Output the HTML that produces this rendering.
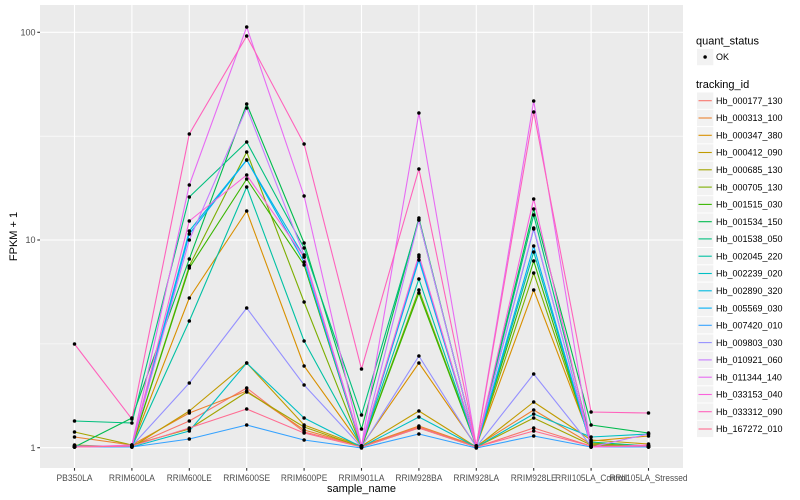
<!DOCTYPE html>
<html><head><meta charset="utf-8"><style>
html,body{margin:0;padding:0;background:#fff;}
svg{display:block;font-family:"Liberation Sans",Arial,sans-serif;}
.ln{fill:none;stroke-width:1.1;stroke-linejoin:round;}
.pt{fill:none;stroke:none;marker-start:url(#d);marker-mid:url(#d);marker-end:url(#d);}
.tx{font-size:9px;fill:#4D4D4D;}
.lg{font-size:9px;fill:#000;}
.tt{font-size:11px;fill:#000;}
</style></head><body>
<svg width="800" height="500" viewBox="0 0 800 500" xmlns="http://www.w3.org/2000/svg">
<defs><marker id="d" markerWidth="4" markerHeight="4" refX="2" refY="2" markerUnits="userSpaceOnUse"><circle cx="2" cy="2" r="1.75" fill="#000"/></marker></defs>
<rect x="0" y="0" width="800" height="500" fill="#fff"/>
<rect x="40" y="5" width="643" height="463" fill="#EBEBEB"/>
<!-- minor grid -->
<line x1="40" x2="683" y1="136.2" y2="136.2" stroke="#fff" stroke-width="0.55"/>
<line x1="40" x2="683" y1="343.9" y2="343.9" stroke="#fff" stroke-width="0.55"/>
<!-- major grid -->
<g stroke="#fff" stroke-width="1.1">
<line x1="40" x2="683" y1="32.3" y2="32.3"/>
<line x1="40" x2="683" y1="240" y2="240"/>
<line x1="40" x2="683" y1="447.7" y2="447.7"/>
<line x1="74.5" x2="74.5" y1="5" y2="468"/>
<line x1="131.9" x2="131.9" y1="5" y2="468"/>
<line x1="189.3" x2="189.3" y1="5" y2="468"/>
<line x1="246.7" x2="246.7" y1="5" y2="468"/>
<line x1="304.1" x2="304.1" y1="5" y2="468"/>
<line x1="361.5" x2="361.5" y1="5" y2="468"/>
<line x1="418.9" x2="418.9" y1="5" y2="468"/>
<line x1="476.3" x2="476.3" y1="5" y2="468"/>
<line x1="533.7" x2="533.7" y1="5" y2="468"/>
<line x1="591.1" x2="591.1" y1="5" y2="468"/>
<line x1="648.5" x2="648.5" y1="5" y2="468"/>
</g>
<!-- series lines -->
<g class="lines">
<polyline class="ln" stroke="#F8766D" points="74.5,447 131.9,446 189.3,421 246.7,388 304.1,432 361.5,446 418.9,427 476.3,447 533.7,428 591.1,446 648.5,447"/>
<polyline class="ln" stroke="#EA8331" points="74.5,437 131.9,445 189.3,413 246.7,391 304.1,430 361.5,446 418.9,426 476.3,446 533.7,410 591.1,444 648.5,446"/>
<polyline class="ln" stroke="#D89000" points="74.5,446 131.9,446 189.3,298 246.7,211 304.1,366 361.5,446 418.9,363 476.3,446 533.7,290 591.1,441 648.5,436"/>
<polyline class="ln" stroke="#C09B00" points="74.5,445 131.9,447 189.3,411 246.7,363 304.1,425 361.5,446 418.9,411 476.3,447 533.7,402 591.1,440 648.5,444"/>
<polyline class="ln" stroke="#A3A500" points="74.5,432 131.9,445 189.3,429 246.7,392 304.1,427 361.5,447 418.9,428 476.3,447 533.7,418 591.1,445 648.5,446"/>
<polyline class="ln" stroke="#7CAE00" points="74.5,446 131.9,446 189.3,266 246.7,152 304.1,302 361.5,447 418.9,290 476.3,446 533.7,273 591.1,443 648.5,447"/>
<polyline class="ln" stroke="#39B600" points="74.5,447 131.9,446 189.3,268 246.7,179 304.1,265 361.5,447 418.9,293 476.3,446 533.7,261 591.1,445 648.5,447"/>
<polyline class="ln" stroke="#00BB4E" points="74.5,447 131.9,418 189.3,259 246.7,104 304.1,243 361.5,429 418.9,218 476.3,447 533.7,209 591.1,425 648.5,433"/>
<polyline class="ln" stroke="#00BF7D" points="74.5,421 131.9,423 189.3,197 246.7,142 304.1,248 361.5,415 418.9,220 476.3,446 533.7,215 591.1,442 648.5,446"/>
<polyline class="ln" stroke="#00C1A3" points="74.5,447 131.9,447 189.3,321 246.7,187 304.1,341 361.5,446 418.9,279 476.3,447 533.7,252 591.1,446 648.5,447"/>
<polyline class="ln" stroke="#00BFC4" points="74.5,446 131.9,447 189.3,431 246.7,363 304.1,418 361.5,447 418.9,417 476.3,447 533.7,414 591.1,437 648.5,434"/>
<polyline class="ln" stroke="#00BAE0" points="74.5,447 131.9,446 189.3,231 246.7,160 304.1,257 361.5,446 418.9,257 476.3,446 533.7,229 591.1,446 648.5,447"/>
<polyline class="ln" stroke="#00B0F6" points="74.5,447 131.9,447 189.3,234 246.7,160 304.1,262 361.5,447 418.9,260 476.3,447 533.7,246 591.1,447 648.5,447"/>
<polyline class="ln" stroke="#35A2FF" points="74.5,447 131.9,447 189.3,439 246.7,425 304.1,440 361.5,448 418.9,434 476.3,448 533.7,436 591.1,447 648.5,447"/>
<polyline class="ln" stroke="#9590FF" points="74.5,446 131.9,446 189.3,383 246.7,308 304.1,385 361.5,447 418.9,356 476.3,447 533.7,374 591.1,446 648.5,446"/>
<polyline class="ln" stroke="#C77CFF" points="74.5,447 131.9,446 189.3,240 246.7,108 304.1,255 361.5,446 418.9,220 476.3,446 533.7,228 591.1,447 648.5,434"/>
<polyline class="ln" stroke="#E76BF3" points="74.5,447 131.9,445 189.3,185 246.7,27 304.1,196 361.5,446 418.9,113 476.3,446 533.7,101 591.1,447 648.5,446"/>
<polyline class="ln" stroke="#FA62DB" points="74.5,447 131.9,446 189.3,221 246.7,175 304.1,257 361.5,446 418.9,255 476.3,447 533.7,199 591.1,447 648.5,445"/>
<polyline class="ln" stroke="#FF62BC" points="74.5,344 131.9,419 189.3,134 246.7,36 304.1,144 361.5,369 418.9,169 476.3,446 533.7,112 591.1,412 648.5,413"/>
<polyline class="ln" stroke="#FF6C91" points="74.5,447 131.9,446 189.3,428 246.7,409 304.1,433 361.5,447 418.9,428 476.3,447 533.7,431 591.1,446 648.5,446"/>
</g>
<!-- points -->
<g>
<polyline class="pt" points="74.5,447 131.9,446 189.3,421 246.7,388 304.1,432 361.5,446 418.9,427 476.3,447 533.7,428 591.1,446 648.5,447"/>
<polyline class="pt" points="74.5,437 131.9,445 189.3,413 246.7,391 304.1,430 361.5,446 418.9,426 476.3,446 533.7,410 591.1,444 648.5,446"/>
<polyline class="pt" points="74.5,446 131.9,446 189.3,298 246.7,211 304.1,366 361.5,446 418.9,363 476.3,446 533.7,290 591.1,441 648.5,436"/>
<polyline class="pt" points="74.5,445 131.9,447 189.3,411 246.7,363 304.1,425 361.5,446 418.9,411 476.3,447 533.7,402 591.1,440 648.5,444"/>
<polyline class="pt" points="74.5,432 131.9,445 189.3,429 246.7,392 304.1,427 361.5,447 418.9,428 476.3,447 533.7,418 591.1,445 648.5,446"/>
<polyline class="pt" points="74.5,446 131.9,446 189.3,266 246.7,152 304.1,302 361.5,447 418.9,290 476.3,446 533.7,273 591.1,443 648.5,447"/>
<polyline class="pt" points="74.5,447 131.9,446 189.3,268 246.7,179 304.1,265 361.5,447 418.9,293 476.3,446 533.7,261 591.1,445 648.5,447"/>
<polyline class="pt" points="74.5,447 131.9,418 189.3,259 246.7,104 304.1,243 361.5,429 418.9,218 476.3,447 533.7,209 591.1,425 648.5,433"/>
<polyline class="pt" points="74.5,421 131.9,423 189.3,197 246.7,142 304.1,248 361.5,415 418.9,220 476.3,446 533.7,215 591.1,442 648.5,446"/>
<polyline class="pt" points="74.5,447 131.9,447 189.3,321 246.7,187 304.1,341 361.5,446 418.9,279 476.3,447 533.7,252 591.1,446 648.5,447"/>
<polyline class="pt" points="74.5,446 131.9,447 189.3,431 246.7,363 304.1,418 361.5,447 418.9,417 476.3,447 533.7,414 591.1,437 648.5,434"/>
<polyline class="pt" points="74.5,447 131.9,446 189.3,231 246.7,160 304.1,257 361.5,446 418.9,257 476.3,446 533.7,229 591.1,446 648.5,447"/>
<polyline class="pt" points="74.5,447 131.9,447 189.3,234 246.7,160 304.1,262 361.5,447 418.9,260 476.3,447 533.7,246 591.1,447 648.5,447"/>
<polyline class="pt" points="74.5,447 131.9,447 189.3,439 246.7,425 304.1,440 361.5,448 418.9,434 476.3,448 533.7,436 591.1,447 648.5,447"/>
<polyline class="pt" points="74.5,446 131.9,446 189.3,383 246.7,308 304.1,385 361.5,447 418.9,356 476.3,447 533.7,374 591.1,446 648.5,446"/>
<polyline class="pt" points="74.5,447 131.9,446 189.3,240 246.7,108 304.1,255 361.5,446 418.9,220 476.3,446 533.7,228 591.1,447 648.5,434"/>
<polyline class="pt" points="74.5,447 131.9,445 189.3,185 246.7,27 304.1,196 361.5,446 418.9,113 476.3,446 533.7,101 591.1,447 648.5,446"/>
<polyline class="pt" points="74.5,447 131.9,446 189.3,221 246.7,175 304.1,257 361.5,446 418.9,255 476.3,447 533.7,199 591.1,447 648.5,445"/>
<polyline class="pt" points="74.5,344 131.9,419 189.3,134 246.7,36 304.1,144 361.5,369 418.9,169 476.3,446 533.7,112 591.1,412 648.5,413"/>
<polyline class="pt" points="74.5,447 131.9,446 189.3,428 246.7,409 304.1,433 361.5,447 418.9,428 476.3,447 533.7,431 591.1,446 648.5,446"/>
</g>
<!-- axis ticks -->
<g stroke="#333" stroke-width="1.1">
<line x1="37.3" x2="40" y1="32.3" y2="32.3"/>
<line x1="37.3" x2="40" y1="240" y2="240"/>
<line x1="37.3" x2="40" y1="447.7" y2="447.7"/>
<line x1="74.5" x2="74.5" y1="468" y2="470.7"/>
<line x1="131.9" x2="131.9" y1="468" y2="470.7"/>
<line x1="189.3" x2="189.3" y1="468" y2="470.7"/>
<line x1="246.7" x2="246.7" y1="468" y2="470.7"/>
<line x1="304.1" x2="304.1" y1="468" y2="470.7"/>
<line x1="361.5" x2="361.5" y1="468" y2="470.7"/>
<line x1="418.9" x2="418.9" y1="468" y2="470.7"/>
<line x1="476.3" x2="476.3" y1="468" y2="470.7"/>
<line x1="533.7" x2="533.7" y1="468" y2="470.7"/>
<line x1="591.1" x2="591.1" y1="468" y2="470.7"/>
<line x1="648.5" x2="648.5" y1="468" y2="470.7"/>
</g>
<!-- y tick labels -->
<g class="tx" text-anchor="end">
<text x="35.5" y="35.5">100</text>
<text x="35.5" y="243.2">10</text>
<text x="35.5" y="450.9">1</text>
</g>
<!-- x tick labels -->
<g class="tx" text-anchor="middle">
<text x="74.5" y="481" textLength="36" lengthAdjust="spacingAndGlyphs">PB350LA</text>
<text x="131.9" y="481" textLength="46" lengthAdjust="spacingAndGlyphs">RRIM600LA</text>
<text x="189.3" y="481" textLength="45" lengthAdjust="spacingAndGlyphs">RRIM600LE</text>
<text x="246.7" y="481" textLength="47" lengthAdjust="spacingAndGlyphs">RRIM600SE</text>
<text x="304.1" y="481" textLength="46.5" lengthAdjust="spacingAndGlyphs">RRIM600PE</text>
<text x="361.5" y="481" textLength="46" lengthAdjust="spacingAndGlyphs">RRIM901LA</text>
<text x="418.9" y="481" textLength="47" lengthAdjust="spacingAndGlyphs">RRIM928BA</text>
<text x="476.3" y="481" textLength="45.5" lengthAdjust="spacingAndGlyphs">RRIM928LA</text>
<text x="533.7" y="481" textLength="46" lengthAdjust="spacingAndGlyphs">RRIM928LE</text>
<text x="591.1" y="481" textLength="72" lengthAdjust="spacingAndGlyphs">RRII105LA_Control</text>
<text x="648.5" y="481" textLength="78" lengthAdjust="spacingAndGlyphs">RRII105LA_Stressed</text>
</g>
<!-- axis titles -->
<text class="tt" x="361.5" y="492" text-anchor="middle">sample_name</text>
<text class="tt" transform="translate(17,236.5) rotate(-90)" text-anchor="middle">FPKM + 1</text>
<!-- legend: quant_status -->
<text class="tt" x="696" y="44.5">quant_status</text>
<rect x="697" y="48.9" width="16.3" height="16.3" fill="#F2F2F2"/>
<circle cx="705.1" cy="57" r="1.75" fill="#000"/>
<text class="lg" x="716" y="60.2">OK</text>
<!-- legend: tracking_id -->
<text class="tt" x="696" y="88.2">tracking_id</text>
<g>
<rect x="697" y="92.5" width="16.3" height="16.3" fill="#F2F2F2"/><line x1="698.5" x2="711.8" y1="100.7" y2="100.7" stroke="#F8766D" stroke-width="1.1"/><text class="lg" x="716" y="103.9">Hb_000177_130</text>
<rect x="697" y="109.8" width="16.3" height="16.3" fill="#F2F2F2"/><line x1="698.5" x2="711.8" y1="118" y2="118" stroke="#EA8331" stroke-width="1.1"/><text class="lg" x="716" y="121.2">Hb_000313_100</text>
<rect x="697" y="127.1" width="16.3" height="16.3" fill="#F2F2F2"/><line x1="698.5" x2="711.8" y1="135.3" y2="135.3" stroke="#D89000" stroke-width="1.1"/><text class="lg" x="716" y="138.5">Hb_000347_380</text>
<rect x="697" y="144.3" width="16.3" height="16.3" fill="#F2F2F2"/><line x1="698.5" x2="711.8" y1="152.5" y2="152.5" stroke="#C09B00" stroke-width="1.1"/><text class="lg" x="716" y="155.7">Hb_000412_090</text>
<rect x="697" y="161.6" width="16.3" height="16.3" fill="#F2F2F2"/><line x1="698.5" x2="711.8" y1="169.8" y2="169.8" stroke="#A3A500" stroke-width="1.1"/><text class="lg" x="716" y="173">Hb_000685_130</text>
<rect x="697" y="178.9" width="16.3" height="16.3" fill="#F2F2F2"/><line x1="698.5" x2="711.8" y1="187.1" y2="187.1" stroke="#7CAE00" stroke-width="1.1"/><text class="lg" x="716" y="190.3">Hb_000705_130</text>
<rect x="697" y="196.2" width="16.3" height="16.3" fill="#F2F2F2"/><line x1="698.5" x2="711.8" y1="204.4" y2="204.4" stroke="#39B600" stroke-width="1.1"/><text class="lg" x="716" y="207.6">Hb_001515_030</text>
<rect x="697" y="213.5" width="16.3" height="16.3" fill="#F2F2F2"/><line x1="698.5" x2="711.8" y1="221.7" y2="221.7" stroke="#00BB4E" stroke-width="1.1"/><text class="lg" x="716" y="224.9">Hb_001534_150</text>
<rect x="697" y="230.7" width="16.3" height="16.3" fill="#F2F2F2"/><line x1="698.5" x2="711.8" y1="238.9" y2="238.9" stroke="#00BF7D" stroke-width="1.1"/><text class="lg" x="716" y="242.1">Hb_001538_050</text>
<rect x="697" y="248" width="16.3" height="16.3" fill="#F2F2F2"/><line x1="698.5" x2="711.8" y1="256.2" y2="256.2" stroke="#00C1A3" stroke-width="1.1"/><text class="lg" x="716" y="259.4">Hb_002045_220</text>
<rect x="697" y="265.3" width="16.3" height="16.3" fill="#F2F2F2"/><line x1="698.5" x2="711.8" y1="273.5" y2="273.5" stroke="#00BFC4" stroke-width="1.1"/><text class="lg" x="716" y="276.7">Hb_002239_020</text>
<rect x="697" y="282.6" width="16.3" height="16.3" fill="#F2F2F2"/><line x1="698.5" x2="711.8" y1="290.8" y2="290.8" stroke="#00BAE0" stroke-width="1.1"/><text class="lg" x="716" y="294">Hb_002890_320</text>
<rect x="697" y="299.9" width="16.3" height="16.3" fill="#F2F2F2"/><line x1="698.5" x2="711.8" y1="308.1" y2="308.1" stroke="#00B0F6" stroke-width="1.1"/><text class="lg" x="716" y="311.3">Hb_005569_030</text>
<rect x="697" y="317.1" width="16.3" height="16.3" fill="#F2F2F2"/><line x1="698.5" x2="711.8" y1="325.3" y2="325.3" stroke="#35A2FF" stroke-width="1.1"/><text class="lg" x="716" y="328.5">Hb_007420_010</text>
<rect x="697" y="334.4" width="16.3" height="16.3" fill="#F2F2F2"/><line x1="698.5" x2="711.8" y1="342.6" y2="342.6" stroke="#9590FF" stroke-width="1.1"/><text class="lg" x="716" y="345.8">Hb_009803_030</text>
<rect x="697" y="351.7" width="16.3" height="16.3" fill="#F2F2F2"/><line x1="698.5" x2="711.8" y1="359.9" y2="359.9" stroke="#C77CFF" stroke-width="1.1"/><text class="lg" x="716" y="363.1">Hb_010921_060</text>
<rect x="697" y="369" width="16.3" height="16.3" fill="#F2F2F2"/><line x1="698.5" x2="711.8" y1="377.2" y2="377.2" stroke="#E76BF3" stroke-width="1.1"/><text class="lg" x="716" y="380.4">Hb_011344_140</text>
<rect x="697" y="386.3" width="16.3" height="16.3" fill="#F2F2F2"/><line x1="698.5" x2="711.8" y1="394.5" y2="394.5" stroke="#FA62DB" stroke-width="1.1"/><text class="lg" x="716" y="397.7">Hb_033153_040</text>
<rect x="697" y="403.5" width="16.3" height="16.3" fill="#F2F2F2"/><line x1="698.5" x2="711.8" y1="411.7" y2="411.7" stroke="#FF62BC" stroke-width="1.1"/><text class="lg" x="716" y="414.9">Hb_033312_090</text>
<rect x="697" y="420.8" width="16.3" height="16.3" fill="#F2F2F2"/><line x1="698.5" x2="711.8" y1="429" y2="429" stroke="#FF6C91" stroke-width="1.1"/><text class="lg" x="716" y="432.2">Hb_167272_010</text>
</g>
</svg>
</body></html>
